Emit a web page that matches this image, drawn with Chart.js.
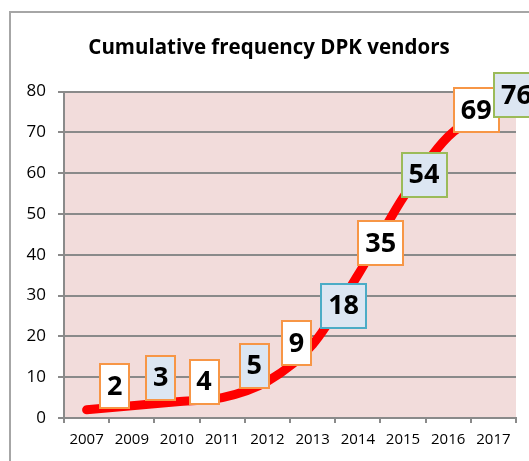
<!DOCTYPE html>
<html>
<head>
<meta charset="utf-8">
<script src="https://cdn.jsdelivr.net/npm/chart.js@4.4.1/dist/chart.umd.min.js"></script>
<style>
  html, body { margin: 0; padding: 0; background: #fff; }
</style>
</head>
<body>
<canvas id="chart" width="529" height="461"></canvas>
<script>
// Datos del gráfico
const years = ['2007', '2009', '2010', '2011', '2012', '2013', '2014', '2015', '2016', '2017'];
const vendors = [2, 3, 4, 5, 9, 18, 35, 54, 69, 76];
const yTicks = [0, 10, 20, 30, 40, 50, 60, 70, 80];

// estilo de las etiquetas (cajas)
const WHITE = '#ffffff', BLUE_FILL = '#dce6f2';
const ORANGE = '#f79646', TEAL = '#4bacc6', GREEN = '#9bbb59';
const boxFill = [WHITE, BLUE_FILL, WHITE, BLUE_FILL, WHITE, BLUE_FILL, WHITE, BLUE_FILL, WHITE, BLUE_FILL];
const boxBorder = [ORANGE, ORANGE, ORANGE, ORANGE, ORANGE, TEAL, ORANGE, GREEN, ORANGE, GREEN];
const boxShift = [[28, -24], [29, -28], [27, -20], [32, -32], [29, -38], [31, -39], [23, -32], [21, -23], [28, -26], [23, -13]];

const GRID = '#8a8a8a';
const FONT = '"Open Sans", "Liberation Sans", sans-serif';

const backdrop = {
  id: 'backdrop',
  beforeDraw(chart) {
    const { ctx, chartArea: a } = chart;
    ctx.save();
    ctx.fillStyle = '#fff';
    ctx.fillRect(0, 0, chart.width, chart.height);
    // marco del gráfico
    ctx.strokeStyle = '#a6a6a6';
    ctx.lineWidth = 2;
    ctx.beginPath();
    ctx.moveTo(10, chart.height + 2);
    ctx.lineTo(10, 12);
    ctx.lineTo(chart.width + 2, 12);
    ctx.stroke();
    // área de trazado rosa
    ctx.fillStyle = '#f2dcdb';
    ctx.fillRect(a.left, a.top, a.right - a.left, a.bottom - a.top);
    ctx.restore();
  }
};

const boxLabels = {
  id: 'boxLabels',
  afterDatasetsDraw(chart) {
    const { ctx } = chart;
    const meta = chart.getDatasetMeta(0);
    ctx.save();
    ctx.font = 'bold 27px ' + FONT;
    ctx.textAlign = 'center';
    ctx.textBaseline = 'middle';
    meta.data.forEach((pt, i) => {
      const txt = String(vendors[i]);
      const w = Math.round(ctx.measureText(txt).width) + 14;
      const h = 44;
      const cx = pt.x + boxShift[i][0];
      const cy = pt.y + boxShift[i][1];
      const x0 = Math.round(cx - w / 2), y0 = Math.round(cy - h / 2);
      ctx.fillStyle = boxFill[i];
      ctx.fillRect(x0, y0, w, h);
      ctx.strokeStyle = boxBorder[i];
      ctx.lineWidth = 2;
      ctx.strokeRect(x0, y0, w, h);
      ctx.fillStyle = '#000';
      ctx.fillText(txt, cx, cy + 1);
    });
    ctx.restore();
  }
};

new Chart(document.getElementById('chart'), {
  type: 'line',
  data: {
    labels: years,
    datasets: [{
      label: 'Cumulative frequency DPK vendors',
      data: vendors,
      borderColor: '#ff0000',
      borderWidth: 9,
      borderCapStyle: 'round',
      borderJoinStyle: 'round',
      cubicInterpolationMode: 'monotone',
      pointRadius: 0,
      fill: false
    }]
  },
  options: {
    responsive: false,
    animation: false,
    // el título queda centrado un poco a la derecha, como en el original
    layout: { padding: { left: 22, right: 13, top: 0, bottom: 0 } },
    plugins: {
      legend: { display: false },
      tooltip: { enabled: false },
      title: {
        display: true,
        text: 'Cumulative frequency DPK vendors',
        color: '#000',
        font: { family: FONT, size: 20.5, weight: 'bold' },
        padding: { top: 36, bottom: 31 }
      }
    },
    scales: {
      x: {
        offset: true,
        afterFit: s => { s.height = 43; },
        grid: { offset: true, drawOnChartArea: false, color: GRID, lineWidth: 2, tickLength: 5 },
        border: { color: GRID, width: 2 },
        ticks: { color: '#000', font: { family: FONT, size: 15 }, padding: 8, maxRotation: 0, autoSkip: false }
      },
      y: {
        min: 0,
        max: 80,
        afterFit: s => { s.width = 42; },
        afterBuildTicks: s => { s.ticks = yTicks.map(v => ({ value: v })); },
        grid: { color: GRID, lineWidth: 2, tickLength: 6 },
        border: { color: GRID, width: 2 },
        ticks: { color: '#000', font: { family: FONT, size: 17 }, padding: 12 }
      }
    }
  },
  plugins: [backdrop, boxLabels]
});
</script>
</body>
</html>
